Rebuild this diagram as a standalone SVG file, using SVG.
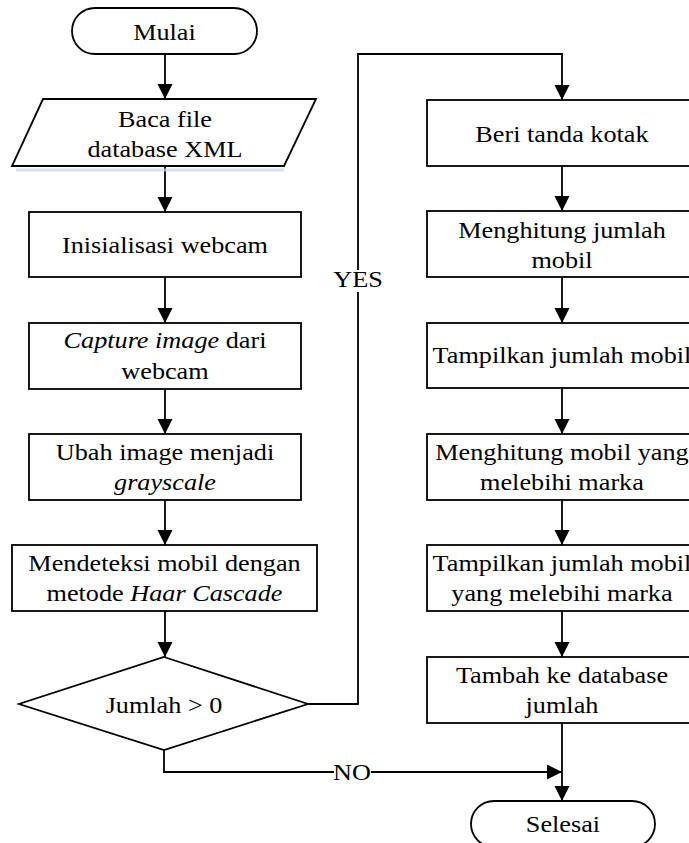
<svg xmlns="http://www.w3.org/2000/svg" width="689" height="843" viewBox="0 0 689 843">
<defs>
<marker id="ah" markerUnits="userSpaceOnUse" markerWidth="16" markerHeight="16" refX="15" refY="7.5" orient="auto">
<path d="M0,0 L15,7.5 L0,15 Z" fill="#000"/>
</marker>
</defs>
<rect width="689" height="843" fill="#fff"/>
<g id="connectors" fill="none" stroke="#000" stroke-width="1.8">
<path d="M165,54 V99" marker-end="url(#ah)"/>
<path d="M165,166 V212" marker-end="url(#ah)"/>
<path d="M165,277 V323" marker-end="url(#ah)"/>
<path d="M165,389 V434" marker-end="url(#ah)"/>
<path d="M165,500 V545" marker-end="url(#ah)"/>
<path d="M165,611 V657" marker-end="url(#ah)"/>
<path d="M308,704 H358 V54 H562 V100" marker-end="url(#ah)"/>
<path d="M562,166 V211" marker-end="url(#ah)"/>
<path d="M562,277 V323" marker-end="url(#ah)"/>
<path d="M562,388 V434" marker-end="url(#ah)"/>
<path d="M562,500 V545" marker-end="url(#ah)"/>
<path d="M562,611 V657" marker-end="url(#ah)"/>
<path d="M562,723 V801" marker-end="url(#ah)"/>
<path d="M164,750 V772 H562" marker-end="url(#ah)"/>
</g>
<g id="labels" style="font-family:'Liberation Serif','Times New Roman',serif;font-size:23px" text-anchor="middle" fill="#000">
<g id="label-yes">
<rect x="334" y="270" width="48" height="22" fill="#fff"/>
<text style="font-family:'Liberation Serif','Times New Roman',serif" transform="scale(1.14,1)" x="314.04" y="287">YES</text>
</g>
<g id="label-no">
<rect x="334" y="762" width="37" height="20" fill="#fff"/>
<text style="font-family:'Liberation Serif','Times New Roman',serif" transform="scale(1.14,1)" x="308.77" y="780">NO</text>
</g>
</g>
<g id="nodes" style="font-family:'Liberation Serif','Times New Roman',serif;font-size:23px" text-anchor="middle">
<g id="mulai">
<rect x="72" y="8" width="185" height="46" rx="23" fill="#fff" stroke="#000" stroke-width="1.8"/>
<text style="font-family:'Liberation Serif','Times New Roman',serif" transform="scale(1.14,1)" x="144.3" y="40">Mulai</text>
</g>
<g id="baca">
<path d="M16,170 H284" stroke="#c8d4ec" stroke-width="3" opacity="0.7"/>
<polygon points="43,99 316,99 284,166 12,166" fill="#fff" stroke="#000" stroke-width="1.8"/>
<text style="font-family:'Liberation Serif','Times New Roman',serif" transform="scale(1.14,1)" x="144.74" y="127">Baca file</text>
<text style="font-family:'Liberation Serif','Times New Roman',serif" transform="scale(1.14,1)" x="144.74" y="157">database XML</text>
</g>
<g id="inisialisasi">
<rect x="29" y="212" width="272" height="65" fill="#fff" stroke="#000" stroke-width="1.8"/>
<text style="font-family:'Liberation Serif','Times New Roman',serif" transform="scale(1.14,1)" x="144.74" y="253">Inisialisasi webcam</text>
</g>
<g id="capture">
<rect x="29" y="323" width="272" height="66" fill="#fff" stroke="#000" stroke-width="1.8"/>
<text style="font-family:'Liberation Serif','Times New Roman',serif" transform="scale(1.14,1)" x="144.74" y="348"><tspan font-style="italic">Capture image</tspan> dari</text>
<text style="font-family:'Liberation Serif','Times New Roman',serif" transform="scale(1.14,1)" x="144.74" y="379">webcam</text>
</g>
<g id="ubah">
<rect x="29" y="434" width="272" height="66" fill="#fff" stroke="#000" stroke-width="1.8"/>
<text style="font-family:'Liberation Serif','Times New Roman',serif" transform="scale(1.14,1)" x="144.74" y="460">Ubah image menjadi</text>
<text style="font-family:'Liberation Serif','Times New Roman',serif" font-style="italic" transform="scale(1.14,1)" x="144.74" y="490">grayscale</text>
</g>
<g id="mendeteksi">
<rect x="12" y="545" width="305" height="66" fill="#fff" stroke="#000" stroke-width="1.8"/>
<text style="font-family:'Liberation Serif','Times New Roman',serif" transform="scale(1.14,1)" x="144.3" y="571">Mendeteksi mobil dengan</text>
<text style="font-family:'Liberation Serif','Times New Roman',serif" transform="scale(1.14,1)" x="144.3" y="601">metode <tspan font-style="italic">Haar Cascade</tspan></text>
</g>
<g id="jumlah">
<polygon points="164,657 308,704 164,750 19,704" fill="#fff" stroke="#000" stroke-width="1.8"/>
<text style="font-family:'Liberation Serif','Times New Roman',serif" transform="scale(1.14,1)" x="143.86" y="713">Jumlah &gt; 0</text>
</g>
<g id="beri">
<rect x="427" y="100" width="270" height="66" fill="#fff" stroke="#000" stroke-width="1.8"/>
<text style="font-family:'Liberation Serif','Times New Roman',serif" transform="scale(1.14,1)" x="492.98" y="142">Beri tanda kotak</text>
</g>
<g id="menghitung-jumlah">
<rect x="427" y="211" width="270" height="66" fill="#fff" stroke="#000" stroke-width="1.8"/>
<text style="font-family:'Liberation Serif','Times New Roman',serif" transform="scale(1.14,1)" x="492.98" y="238">Menghitung jumlah</text>
<text style="font-family:'Liberation Serif','Times New Roman',serif" transform="scale(1.14,1)" x="492.98" y="268">mobil</text>
</g>
<g id="tampilkan-jumlah">
<rect x="427" y="323" width="270" height="65" fill="#fff" stroke="#000" stroke-width="1.8"/>
<text style="font-family:'Liberation Serif','Times New Roman',serif" transform="scale(1.14,1)" x="492.98" y="363">Tampilkan jumlah mobil</text>
</g>
<g id="menghitung-melebihi">
<rect x="427" y="434" width="270" height="66" fill="#fff" stroke="#000" stroke-width="1.8"/>
<text style="font-family:'Liberation Serif','Times New Roman',serif" transform="scale(1.14,1)" x="492.98" y="460">Menghitung mobil yang</text>
<text style="font-family:'Liberation Serif','Times New Roman',serif" transform="scale(1.14,1)" x="492.98" y="490">melebihi marka</text>
</g>
<g id="tampilkan-melebihi">
<rect x="427" y="545" width="270" height="66" fill="#fff" stroke="#000" stroke-width="1.8"/>
<text style="font-family:'Liberation Serif','Times New Roman',serif" transform="scale(1.14,1)" x="492.98" y="571">Tampilkan jumlah mobil</text>
<text style="font-family:'Liberation Serif','Times New Roman',serif" transform="scale(1.14,1)" x="492.98" y="601">yang melebihi marka</text>
</g>
<g id="tambah">
<rect x="427" y="657" width="270" height="66" fill="#fff" stroke="#000" stroke-width="1.8"/>
<text style="font-family:'Liberation Serif','Times New Roman',serif" transform="scale(1.14,1)" x="492.98" y="683">Tambah ke database</text>
<text style="font-family:'Liberation Serif','Times New Roman',serif" transform="scale(1.14,1)" x="492.98" y="713">jumlah</text>
</g>
<g id="selesai">
<rect x="471" y="801" width="184" height="46" rx="23" fill="#fff" stroke="#000" stroke-width="1.8"/>
<text style="font-family:'Liberation Serif','Times New Roman',serif" transform="scale(1.14,1)" x="493.86" y="832">Selesai</text>
</g>
</g>
</svg>
